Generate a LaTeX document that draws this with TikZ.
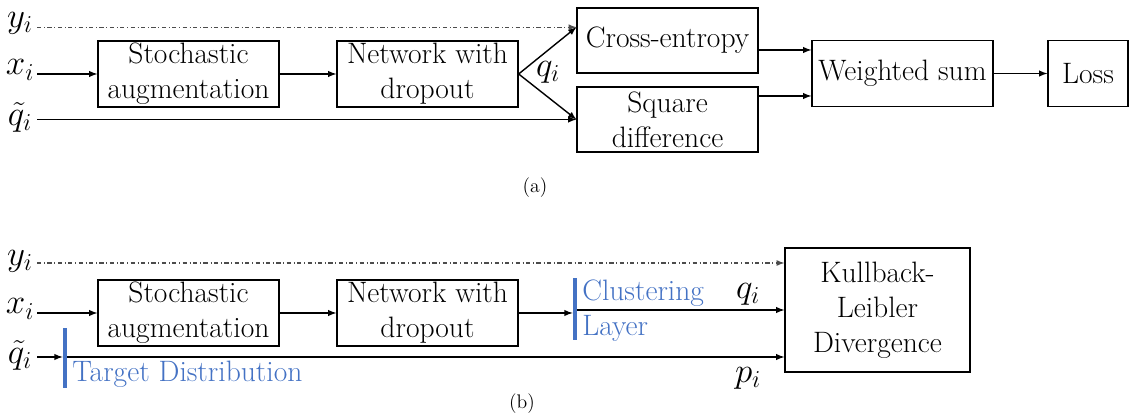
\documentclass[tikz,border=0pt]{standalone}
\usepackage{amsmath}
\usetikzlibrary{arrows}
\usetikzlibrary{calc}
\definecolor{laagblauw}{RGB}{68,114,196}

\begin{document}
\begin{tikzpicture}[x=0.025cm, y=-0.025cm,
        font=\fontsize{21}{25}\selectfont,
        blok/.style={draw, line width=0.9pt, align=center, inner sep=0pt,
            minimum width=4.525cm, minimum height=1.65cm},
        pijl/.style={-latex, line width=1pt},
        stip/.style={-latex, dash dot, line width=0.9pt, black!70},
        balk/.style={fill=laagblauw, inner sep=0pt, minimum width=3pt},
        laag/.style={text=laagblauw, align=left, inner sep=0pt},
        invoer/.style={font=\fontsize{24}{26}\selectfont, inner sep=1pt}]
        \useasboundingbox (0,0) rectangle (1130,418);

        % (a) Blokken
        \node[blok] (stocha) at (188.5,74) {Stochastic\\augmentation};
        \node[blok] (neta) at (427.5,74) {Network with\\dropout};
        \node[blok, minimum height=1.625cm] (ce) at (667.5,40.5) {Cross-entropy};
        \node[blok, minimum height=1.625cm] (sd) at (667.5,119.5) {Square\\difference};
        \node[blok] (ws) at (902.5,73.5) {Weighted sum};
        \node[blok, minimum width=2cm] (loss) at (1088,73.5) {Loss};

        % (a) Ingangen
        \node[invoer] (ya) at (20,23) {$y_i$};
        \node[invoer] (xa) at (20,70) {$x_i$};
        \node[invoer] (qa) at (20,117) {$\tilde{q}_i$};
        \coordinate (cein) at ($(ce.north west)!.3!(ce.south west)$);

        \draw[stip] (37,0 |- cein) -- (cein);
        \draw[pijl] (37,0 |- stocha.west) -- (stocha.west);
        \draw[pijl] (stocha) -- (neta);
        \draw[pijl] (neta.east) -- (cein);
        \draw[pijl] (neta.east) -- (sd.west);
        \draw[pijl] (37,0 |- sd.west) -- (sd.west);
        \node[invoer] (qia) at (548,72) {$q_i$};

        % (a) Uitgangen
        \draw[pijl] (ce.east |- 0,50) -- (ws.west |- 0,50);
        \draw[pijl] (sd.east |- 0,96) -- (ws.west |- 0,96);
        \draw[pijl] (ws) -- (loss);
        \node[font=\fontsize{14}{16}\selectfont] (capa) at (535,188) {(a)};

        % (b) Blokken
        \node[blok] (stochb) at (188.5,313) {Stochastic\\augmentation};
        \node[blok] (netb) at (427.5,313) {Network with\\dropout};
        \node[blok, minimum width=4.625cm, minimum height=3.1cm] (kl) at (877.5,310)
            {Kullback-\\Leibler\\Divergence};

        % (b) Lagen
        \node[balk, minimum height=1.55cm] (cl) at (575,309) {};
        \node[laag, anchor=west] (cltxt) at (582,311) {Clustering\\Layer};
        \node[balk, minimum height=1.5cm] (td) at (65,358) {};
        \node[laag, anchor=west] (tdtxt) at (72,374) {Target Distribution};

        % (b) Ingangen
        \node[invoer] (yb) at (20,261) {$y_i$};
        \node[invoer] (xb) at (20,309) {$x_i$};
        \node[invoer] (qb) at (20,355) {$\tilde{q}_i$};

        \draw[stip] (37,263) -- (kl.west |- 0,263);
        \draw[pijl] (37,0 |- stochb.west) -- (stochb.west);
        \draw[pijl] (stochb) -- (netb);
        \draw[pijl] (netb.east) -- (cl.west |- netb.east);
        \draw[pijl] (cl.east |- kl.west) -- (kl.west);
        \draw[pijl] (37,357) -- (td.west |- 0,357);
        \draw[pijl] (td.east |- 0,357) -- (kl.west |- 0,357);
        \node[invoer] (qib) at (748,294) {$q_i$};
        \node[invoer] (pib) at (748,378) {$p_i$};
        \node[font=\fontsize{14}{16}\selectfont] (capb) at (522,404) {(b)};
    \end{tikzpicture}
\end{document}
